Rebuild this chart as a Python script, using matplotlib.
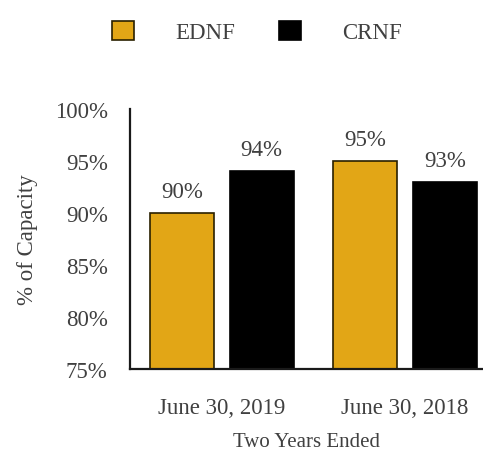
import matplotlib.pyplot as plt
import numpy as np

plt.rcParams['font.family'] = ['Liberation Serif', 'DejaVu Serif']

groups = ['June 30, 2019', 'June 30, 2018']
ednf = [90, 95]
crnf = [94, 93]
yticks = [75, 80, 85, 90, 95, 100]

gold = '#E2A616'
txt = '#404040'
fs = 16.5

fig = plt.figure(figsize=(4.83, 4.52), dpi=100)
ax = fig.add_axes([0.269, 0.181, 0.731, 0.576])

x = np.arange(len(groups))
w = 0.35
off = 0.217
b1 = ax.bar(x - off, ednf, w, color=gold, edgecolor='#2a2000', linewidth=1.2, label='EDNF')
b2 = ax.bar(x + off, crnf, w, color='black', edgecolor='black', linewidth=1.2, label='CRNF')
ax.bar_label(b1, labels=[f'{v}%' for v in ednf], padding=8, fontsize=fs, color=txt)
ax.bar_label(b2, labels=[f'{v}%' for v in crnf], padding=8, fontsize=fs, color=txt)

ax.set_ylim(75, 100)
ax.set_xlim(-0.503, 1.426)
ax.set_yticks(yticks)
ax.set_yticklabels([f'{t}%' for t in yticks], fontsize=fs, color=txt)
ax.set_xticks(x)
ax.set_xticklabels(groups, fontsize=fs, color=txt)
ax.tick_params(axis='y', length=0, pad=16)
ax.tick_params(axis='x', length=0, pad=20)
ax.set_ylabel('% of Capacity', fontsize=fs, color=txt, labelpad=12)
ax.set_xlabel('Two Years Ended', fontsize=15, color=txt, labelpad=10)

for s in ['top', 'right']:
    ax.spines[s].set_visible(False)
for s in ['left', 'bottom']:
    ax.spines[s].set_linewidth(1.6)
    ax.spines[s].set_color('#1a1a1a')

fig.legend(handles=[b1, b2], loc='center', bbox_to_anchor=(0.532, 1 - 33 / 452), ncol=2,
           frameon=False, fontsize=fs, handlelength=0.95, handleheight=0.95,
           handletextpad=1.8, columnspacing=1.9, labelcolor=txt)

fig.savefig('out.png', dpi=100)
